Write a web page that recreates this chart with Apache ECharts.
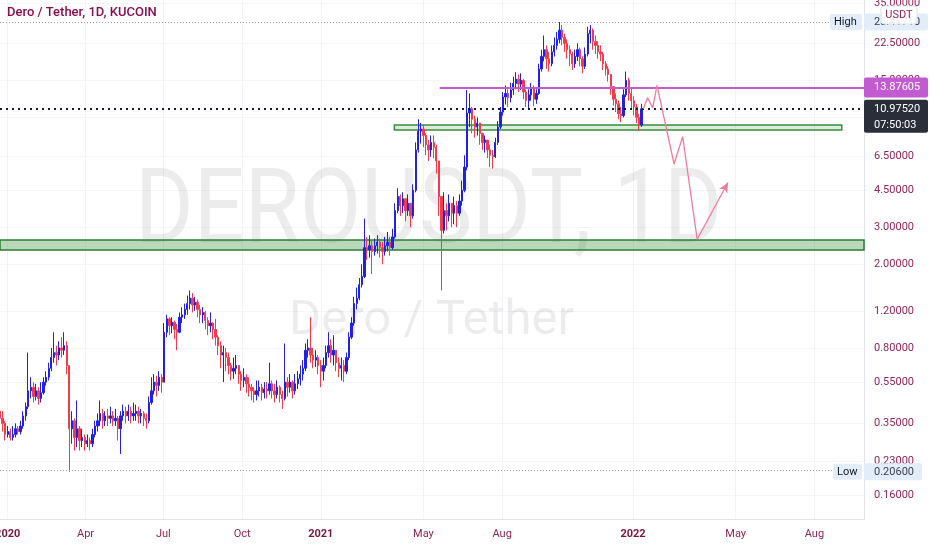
<!DOCTYPE html>
<html>
<head>
<meta charset="utf-8">
<script src="https://cdn.jsdelivr.net/npm/echarts@6/dist/echarts.min.js"></script>
<style>
  html, body { margin: 0; padding: 0; background: #fff; }
  #chart { width: 932px; height: 550px; }
</style>
</head>
<body>
<div id="chart"></div>
<script>
// 3-day candles, first one on 2019-12-23
const firstCandle = '2019-12-23';
const stepDays = 3;
const firstOpen = 0.40;
const closes = [
  0.37,0.35,0.31,0.32,0.30,0.31,0.33,0.32,0.34,0.38, 0.42,0.50,0.52,0.47,0.50,0.46,0.49,0.55,0.58,0.64,
  0.72,0.76,0.74,0.80,0.78,0.82,0.66,0.33,0.36,0.30, 0.33,0.29,0.30,0.28,0.29,0.28,0.31,0.34,0.36,0.39,
  0.36,0.38,0.37,0.38,0.36,0.37,0.33,0.38,0.40,0.38, 0.40,0.38,0.39,0.40,0.38,0.39,0.37,0.36,0.44,0.50,
  0.55,0.53,0.58,0.55,0.95,1.10,1.02,1.06,0.98,0.95, 1.12,1.15,1.22,1.30,1.38,1.28,1.32,1.22,1.15,1.18,
  1.08,1.02,1.05,0.98,0.90,0.82,0.74,0.76,0.72,0.66, 0.62,0.64,0.66,0.60,0.56,0.58,0.54,0.52,0.50,0.48,
  0.50,0.52,0.49,0.51,0.50,0.54,0.50,0.48,0.52,0.48, 0.46,0.55,0.52,0.55,0.50,0.54,0.57,0.60,0.64,0.78,
  0.80,0.74,0.70,0.72,0.66,0.62,0.66,0.76,0.82,0.74, 0.78,0.68,0.64,0.66,0.62,0.72,0.90,1.05,1.30,1.38,
  1.60,1.75,2.40,2.35,2.45,2.30,2.45,2.55,2.40,2.30, 2.45,2.55,2.40,2.70,3.60,4.20,3.80,4.10,3.60,3.90,
  3.40,4.50,7.00,8.60,8.80,8.20,7.40,7.00,7.60,7.20, 6.20,4.20,2.90,3.60,3.40,3.90,3.50,3.80,3.50,4.00,
  4.50,5.80,10.5,11.0,9.80,9.00,9.40,8.40,7.60,7.80, 7.00,6.60,6.50,7.60,9.00,10.6,12.5,13.0,12.4,13.5,
  14.5,15.2,14.4,15.0,13.2,12.0,12.8,13.8,12.2,13.0, 17.0,19.5,21.0,19.0,18.0,20.5,22.0,23.5,26.0,24.0,
  22.5,21.0,20.0,18.0,19.5,21.0,19.0,17.5,20.0,25.0, 26.0,23.0,22.0,20.5,20.0,18.0,17.0,16.0,14.0,12.2,
  11.6,10.4,10.2,12.8,15.0,13.0,12.0,11.2,10.0,9.20, 10.9752
];
const lows = [
  0.34,0.32,0.29,0.30,0.29,0.29,0.30,0.31,0.31,0.33, 0.36,0.41,0.46,0.44,0.45,0.43,0.44,0.48,0.53,0.56,
  0.62,0.68,0.66,0.70,0.72,0.74,0.60,0.206,0.28,0.26, 0.27,0.26,0.27,0.26,0.27,0.26,0.27,0.30,0.32,0.34,
  0.33,0.34,0.34,0.35,0.34,0.34,0.29,0.25,0.36,0.35, 0.36,0.35,0.36,0.36,0.35,0.35,0.34,0.33,0.35,0.43,
  0.48,0.47,0.50,0.49,0.55,0.90,0.92,0.94,0.88,0.78, 0.94,1.05,1.10,1.15,1.22,1.18,1.20,1.12,1.05,1.05,
  0.98,0.92,0.95,0.88,0.82,0.74,0.64,0.55,0.62,0.60, 0.56,0.57,0.60,0.54,0.50,0.52,0.49,0.47,0.45,0.44,
  0.45,0.47,0.45,0.46,0.46,0.48,0.46,0.44,0.46,0.44, 0.41,0.45,0.47,0.49,0.46,0.48,0.51,0.53,0.56,0.62,
  0.72,0.68,0.64,0.65,0.60,0.52,0.56,0.64,0.72,0.68, 0.66,0.62,0.58,0.56,0.55,0.60,0.70,0.88,1.02,1.22,
  1.35,1.55,1.72,2.10,2.15,1.80,2.20,2.25,2.15,2.00, 2.20,2.30,2.20,2.35,2.65,3.50,3.40,3.50,3.20,3.40,
  3.00,3.30,4.40,6.80,7.50,7.20,6.60,6.20,6.50,6.40, 5.40,3.40,1.50,2.80,2.90,3.20,3.00,3.10,3.00,3.40,
  3.80,4.40,5.60,9.00,8.40,8.00,8.20,7.40,7.00,6.80, 6.40,5.80,5.70,6.40,7.40,8.80,10.2,11.5,11.2,11.8,
  12.8,13.6,13.2,13.5,12.2,11.2,11.0,12.0,11.3,11.6, 12.8,16.5,18.5,17.0,16.5,17.5,19.5,21.0,22.5,22.0,
  20.5,19.0,17.5,16.8,17.2,18.5,17.5,16.2,17.0,19.5, 22.5,21.0,20.0,19.0,18.5,16.8,15.8,14.8,12.8,11.4,
  10.6,9.80,9.50,10.0,12.5,12.0,11.0,10.2,9.40,8.60, 9.00
];
const highs = [
  0.46,0.40,0.36,0.34,0.33,0.34,0.35,0.34,0.36,0.40, 0.44,0.76,0.58,0.55,0.54,0.52,0.55,0.58,0.62,0.68,
  0.80,0.95,0.82,0.86,0.90,0.95,0.86,0.66,0.40,0.37, 0.45,0.34,0.33,0.31,0.31,0.30,0.33,0.36,0.39,0.45,
  0.41,0.40,0.41,0.42,0.40,0.41,0.38,0.40,0.43,0.42, 0.43,0.42,0.44,0.43,0.42,0.41,0.40,0.39,0.47,0.58,
  0.60,0.59,0.62,0.60,1.05,1.15,1.12,1.12,1.08,1.04, 1.18,1.25,1.30,1.42,1.50,1.46,1.40,1.36,1.28,1.25,
  1.20,1.12,1.18,1.06,1.10,0.92,0.86,0.82,0.80,0.76, 0.68,0.72,0.74,0.66,0.62,0.64,0.60,0.58,0.54,0.52,
  0.56,0.56,0.54,0.55,0.55,0.68,0.56,0.54,0.56,0.53, 0.50,0.84,0.58,0.60,0.56,0.60,0.62,0.66,0.70,0.84,
  0.88,1.12,0.80,0.78,0.74,0.70,0.72,0.82,0.95,0.88, 0.92,0.78,0.72,0.72,0.70,0.76,0.95,1.12,1.40,1.55,
  1.72,2.00,3.30,2.70,2.75,2.60,2.65,2.75,2.65,2.55, 2.70,2.85,2.70,2.95,3.90,4.60,4.30,4.40,4.00,4.30,
  3.90,4.80,7.60,9.80,9.40,9.20,8.40,7.80,8.20,8.20, 7.40,6.00,4.20,4.40,3.90,4.30,3.90,4.20,4.00,4.30,
  5.00,6.60,13.5,13.0,11.2,10.2,10.0,9.30,8.40,8.20, 7.80,7.40,7.00,8.00,9.60,11.2,13.2,14.2,13.6,14.6,
  15.6,16.4,16.0,16.2,15.2,13.6,13.6,14.6,14.2,13.6, 18.0,21.0,24.5,22.0,20.5,22.0,24.0,25.5,28.4,27.5,
  25.0,23.5,22.0,20.5,21.0,22.5,21.5,19.5,21.5,27.0, 27.5,26.5,24.5,23.0,22.0,20.5,18.5,17.5,16.0,14.0,
  13.0,12.0,11.2,13.6,16.5,15.4,13.8,12.6,11.6,10.4, 11.6
];

const monthTicks = ['2020-01-01','2020-04-01','2020-07-01','2020-10-01','2021-01-01',
  '2021-05-01','2021-08-01','2022-01-01','2022-05-01','2022-08-01'];
const priceTicks = [0.16, 0.23, 0.35, 0.55, 0.8, 1.2, 2, 3, 4.5, 6.5, 10, 15, 22.5, 35];
const monthNames = ['Jan','Feb','Mar','Apr','May','Jun','Jul','Aug','Sep','Oct','Nov','Dec'];

const currentPrice = 10.9752;
const countdown = '07:50:03';
const resistance = 13.87605;
const resistanceFrom = '2021-05-20';
const highPrice = 28.4171;
const lowPrice = 0.206;
const supportZone = [2.34, 2.61];
const boxZone = [8.71, 9.20];
const boxZoneDates = ['2021-03-28', '2022-09-02'];
const pathDates = ['2022-01-13','2022-01-18','2022-01-24','2022-01-29','2022-02-18','2022-02-28','2022-03-17','2022-04-22'];
const pathValues = [11.0, 12.4, 11.1, 14.2, 6.0, 8.1, 2.63, 4.9];

const upColor = '#2121e2';
const downColor = '#f03c4c';
const labelColor = '#8f2455';
const pathColor = '#f27a9b';
const font = 'Roboto';

function toTs(s) {
  const p = s.split('-');
  return new Date(+p[0], +p[1] - 1, +p[2]).getTime();
}
const DAY = 86400000;
const t0 = toTs(firstCandle);
const xMin = toTs('2019-12-23');
const xMax = toTs('2022-09-28');

let candles = [];
for (let i = 0; i < closes.length; i++) {
  const o = i === 0 ? firstOpen : closes[i - 1];
  const c = closes[i];
  candles.push([t0 + i * stepDays * DAY, o, c, Math.min(lows[i], o, c), Math.max(highs[i], o, c)]);
}
const path = pathDates.map((d, i) => [toTs(d), pathValues[i]]);

var chart = echarts.init(document.getElementById('chart'));
let option = {
  animation: false,
  backgroundColor: '#ffffff',
  grid: { left: 0, right: 68, top: 0, bottom: 31, outerBoundsMode: 'none' },
  xAxis: {
    type: 'value',
    min: xMin,
    max: xMax,
    axisLine: { show: true, lineStyle: { color: '#e0e3eb' } },
    axisTick: { show: false, customValues: monthTicks.map(toTs) },
    splitLine: { show: true, lineStyle: { color: '#f2f3f6' } },
    axisLabel: {
      customValues: monthTicks.map(toTs),
      color: labelColor,
      fontFamily: font,
      fontSize: 11,
      margin: 10,
      formatter: function (v) {
        const d = new Date(v);
        return d.getMonth() === 0 ? '{y|' + d.getFullYear() + '}' : monthNames[d.getMonth()];
      },
      rich: { y: { color: '#7a1642', fontFamily: font, fontSize: 11, fontWeight: 'bold' } }
    }
  },
  yAxis: {
    type: 'log',
    position: 'right',
    min: 0.1228,
    max: 36.17,
    axisLine: { show: true, lineStyle: { color: '#e0e3eb' } },
    axisTick: { show: false, customValues: priceTicks },
    splitLine: { show: true, lineStyle: { color: '#f4f5f8' } },
    axisLabel: {
      customValues: priceTicks,
      color: labelColor,
      fontFamily: font,
      fontSize: 11,
      margin: 10,
      formatter: v => Number(v).toFixed(5)
    }
  },
  series: [
    {
      type: 'candlestick',
      data: candles,
      barWidth: 1.8,
      itemStyle: { color: upColor, color0: downColor, borderColor: upColor, borderColor0: downColor, borderWidth: 1 },
      markArea: {
        silent: true,
        data: [
          [{ xAxis: xMin, yAxis: supportZone[0], itemStyle: { color: 'rgba(56,142,60,0.35)', borderColor: '#2e7d32', borderWidth: 1.5 } },
           { xAxis: xMax, yAxis: supportZone[1] }],
          [{ xAxis: toTs(boxZoneDates[0]), yAxis: boxZone[0], itemStyle: { color: 'rgba(56,142,60,0.18)', borderColor: '#388e3c', borderWidth: 1.5 } },
           { xAxis: toTs(boxZoneDates[1]), yAxis: boxZone[1] }]
        ]
      },
      markLine: {
        silent: true,
        symbol: 'none',
        label: { show: false },
        data: [
          { yAxis: highPrice, lineStyle: { color: '#9598a1', type: [1, 2], width: 1 } },
          { yAxis: lowPrice, lineStyle: { color: '#9598a1', type: [1, 2], width: 1 } },
          { yAxis: currentPrice, lineStyle: { color: '#131722', type: [2, 4], width: 2 } },
          [{ xAxis: toTs(resistanceFrom), yAxis: resistance, lineStyle: { color: '#c25bd2', type: 'solid', width: 2 } },
           { xAxis: xMax, yAxis: resistance }]
        ]
      }
    },
    {
      type: 'line',
      data: path.slice(0, -1),
      symbol: 'none',
      z: 5,
      lineStyle: { color: pathColor, width: 1.3 },
      markLine: {
        silent: true,
        symbol: ['none', 'arrow'],
        symbolSize: [7, 10],
        label: { show: false },
        lineStyle: { color: pathColor, width: 1.3, type: 'solid' },
        data: [[{ coord: path[path.length - 2] }, { coord: path[path.length - 1] }]]
      }
    }
  ]
};
option && chart.setOption(option);

// overlay labels placed through the axis scale
const yOf = v => chart.convertToPixel({ yAxisIndex: 0 }, v);
const axisX = chart.getWidth() - 68;
const boxFont = '11px ' + font;
function priceBox(v, text, bg, fg, w, h) {
  const y = yOf(v);
  return [
    { type: 'rect', z: 100, shape: { x: axisX, y: y - h / 2, width: w, height: h, r: 2 }, style: { fill: bg } },
    { type: 'text', z: 101, x: axisX + 10, y: y, style: { text: text, font: boxFont, fill: fg, verticalAlign: 'middle' } }
  ];
}
const yCur = yOf(currentPrice), yHigh = yOf(highPrice), yLow = yOf(lowPrice);
let graphics = [
  { type: 'text', z: 0, x: 135, y: 216, scaleX: 0.86, silent: true,
    style: { text: 'DEROUSDT, 1D', font: '104px ' + font, fill: 'rgba(0,0,0,0.075)', verticalAlign: 'middle' } },
  { type: 'text', z: 0, x: 289, y: 322, silent: true,
    style: { text: 'Dero / Tether', font: '49px ' + font, fill: 'rgba(0,0,0,0.075)', verticalAlign: 'middle' } },
  { type: 'text', z: 101, x: 7, y: 13,
    style: { text: 'Dero / Tether, 1D, KUCOIN', font: '500 13px ' + font, fill: '#880e4f', verticalAlign: 'middle' } },
  // high / low tags
  { type: 'rect', z: 100, shape: { x: axisX - 34, y: yHigh - 8, width: 32, height: 16, r: 2 }, style: { fill: '#e3edf9' } },
  { type: 'text', z: 101, x: axisX - 30, y: yHigh, style: { text: 'High', font: boxFont, fill: '#131722', verticalAlign: 'middle' } },
  { type: 'rect', z: 100, shape: { x: axisX - 31, y: yLow - 8, width: 29, height: 16, r: 2 }, style: { fill: '#e3edf9' } },
  { type: 'text', z: 101, x: axisX - 27, y: yLow, style: { text: 'Low', font: boxFont, fill: '#131722', verticalAlign: 'middle' } }
];
graphics = graphics.concat(priceBox(highPrice, highPrice.toFixed(5), '#e3edf9', '#3b3f4a', 64, 17));
graphics = graphics.concat(priceBox(lowPrice, lowPrice.toFixed(5), '#e3edf9', '#3b3f4a', 58, 17));
graphics = graphics.concat(priceBox(resistance, resistance.toFixed(5), '#c25bd2', '#ffffff', 64, 20));
graphics.push(
  { type: 'rect', z: 100, shape: { x: axisX, y: yCur - 9, width: 64, height: 33, r: 2 }, style: { fill: '#2a2e39' } },
  { type: 'text', z: 101, x: axisX + 10, y: yCur, style: { text: currentPrice.toFixed(5), font: boxFont, fill: '#ffffff', verticalAlign: 'middle' } },
  { type: 'text', z: 101, x: axisX + 10, y: yCur + 16, style: { text: countdown, font: boxFont, fill: '#ffffff', verticalAlign: 'middle' } },
  // currency tag over the top of the scale
  { type: 'rect', z: 102, shape: { x: axisX + 17, y: 6, width: 36, height: 18, r: 3 }, style: { fill: 'rgba(255,255,255,0.9)', stroke: '#e0e3eb', lineWidth: 1 } },
  { type: 'text', z: 103, x: axisX + 35, y: 15, style: { text: 'USDT', font: boxFont, fill: labelColor, align: 'center', verticalAlign: 'middle' } }
);
chart.setOption({ graphic: graphics });

window.addEventListener('resize', function () {
  setTimeout(function () { chart.resize(); }, 200);
});
</script>
</body>
</html>
